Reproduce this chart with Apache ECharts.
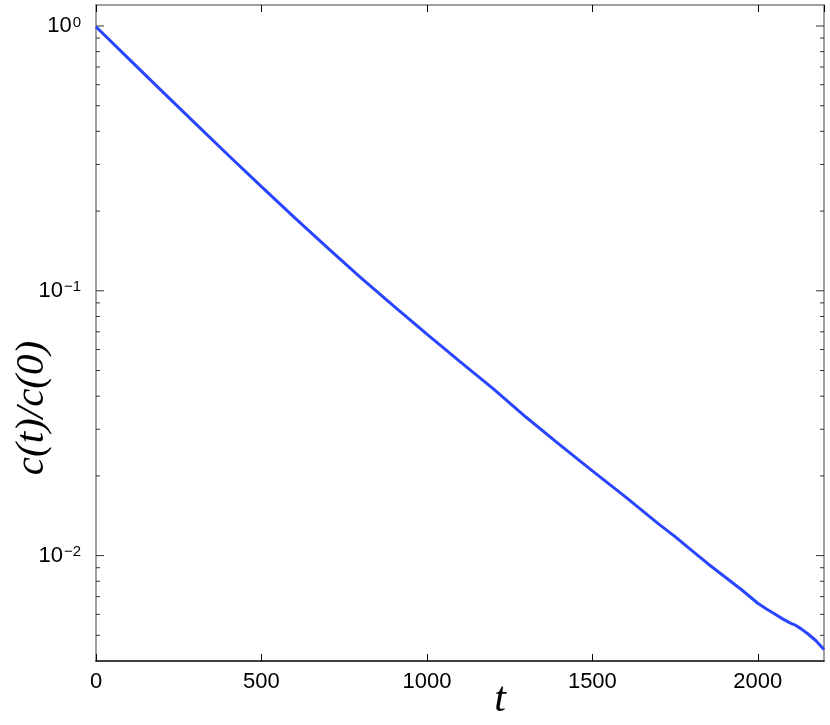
<!DOCTYPE html>
<html style="height: 100%">
<head>
    <meta charset="utf-8">
</head>
<body style="height: 100%; margin: 0; background: #fff">
<div id="decay_container" style="height: 725px; width: 830px"></div>
<script src="https://cdn.jsdelivr.net/npm/echarts@6/dist/echarts.min.js"></script>
<script type="text/javascript">
    // t values and c(t)/c(0)
    var timeSteps = [0, 100, 200, 300, 400, 500, 600, 700, 800, 900, 1000, 1100, 1200, 1300, 1400, 1500,
        1600, 1700, 1750, 1800, 1850, 1900, 1950, 2000, 2025, 2050, 2075, 2100, 2115, 2130, 2150, 2175, 2200];
    var ratioValues = [0.993, 0.750, 0.566, 0.4285, 0.325, 0.2472, 0.1888, 0.1452, 0.1122, 0.0875, 0.0686, 0.0540, 0.0427, 0.0333, 0.0263, 0.0209,
        0.01667, 0.01318, 0.0118, 0.01047, 0.0093, 0.00832, 0.00745, 0.00661, 0.0063, 0.00603, 0.00577, 0.00555, 0.00545, 0.0053, 0.00508, 0.00478, 0.00442];
    var majorTicks = [0.01, 0.1, 1];
    var minorTicks = [0.005, 0.006, 0.007, 0.008, 0.009, 0.02, 0.03, 0.04, 0.05, 0.06, 0.07, 0.08, 0.09,
        0.2, 0.3, 0.4, 0.5, 0.6, 0.7, 0.8, 0.9];

    var chartDom = document.getElementById('decay_container');
    var myChart = echarts.init(chartDom);

    var lineData = timeSteps.map(function (t, i) { return [t, ratioValues[i]]; });
    var tickData = majorTicks.map(function (v) { return [0, v, 8]; })
        .concat(minorTicks.map(function (v) { return [0, v, 4]; }));

    var frameGray = '#808080';

    function expLabel(v) {
        var e = Math.round(Math.log(v) / Math.LN10);
        if (Math.abs(Math.pow(10, e) - v) > v * 1e-6) return '';
        return '{b|10}{s|' + (e < 0 ? '\u2212' + (-e) : e) + '}';
    }

    var option = {
        backgroundColor: '#ffffff',
        animation: false,
        grid: { left: 96, right: 6, top: 5, bottom: 64, containLabel: false, outerBoundsMode: 'none' },
        xAxis: [
            {
                type: 'value',
                min: 0,
                max: 2200,
                interval: 500,
                name: 't',
                nameLocation: 'middle',
                nameGap: 18,
                nameMoveOverlap: false,
                nameTextStyle: {
                    fontFamily: 'Liberation Serif', fontStyle: 'italic', fontSize: 42, color: '#000',
                    verticalAlign: 'top', padding: [0, 0, 0, 80]
                },
                axisLine: { show: true, onZero: false, lineStyle: { color: '#000', width: 1.5 } },
                axisTick: { show: true, inside: true, length: 7, lineStyle: { color: '#000', width: 1 } },
                axisLabel: {
                    fontFamily: 'Liberation Sans', fontSize: 22, color: '#000', margin: 10, showMaxLabel: false,
                    formatter: function (v) { return String(v); }
                },
                splitLine: { show: false }
            },
            {
                type: 'value',
                position: 'top',
                min: 0,
                max: 2200,
                interval: 500,
                axisLine: { show: true, onZero: false, lineStyle: { color: frameGray, width: 1.5 } },
                axisTick: { show: true, inside: true, length: 7, lineStyle: { color: '#000', width: 1 } },
                axisLabel: { show: false },
                splitLine: { show: false }
            }
        ],
        yAxis: [
            {
                type: 'log',
                logBase: 10,
                min: 0.004,
                max: 1.2,
                name: 'c(t)/c(0)',
                nameLocation: 'middle',
                nameRotate: 90,
                nameGap: 43,
                nameMoveOverlap: false,
                nameTextStyle: {
                    fontFamily: 'Liberation Serif', fontStyle: 'italic', fontSize: 41, color: '#000',
                    verticalAlign: 'bottom', padding: [0, 150, 0, 0]
                },
                axisLine: { show: true, onZero: false, lineStyle: { color: frameGray, width: 1.5 } },
                axisTick: { show: false },
                axisLabel: {
                    margin: 15,
                    showMinLabel: false,
                    showMaxLabel: false,
                    formatter: expLabel,
                    rich: {
                        b: { fontFamily: 'Liberation Sans', fontSize: 22, lineHeight: 22, color: '#000', verticalAlign: 'bottom' },
                        s: { fontFamily: 'Liberation Sans', fontSize: 15, lineHeight: 15, color: '#000', verticalAlign: 'top', padding: [0, 0, 12, 1] }
                    }
                },
                splitLine: { show: false }
            },
            {
                type: 'log',
                logBase: 10,
                min: 0.004,
                max: 1.2,
                position: 'right',
                axisLine: { show: true, onZero: false, lineStyle: { color: frameGray, width: 1.5 } },
                axisTick: { show: false },
                axisLabel: { show: false },
                splitLine: { show: false }
            }
        ],
        series: [
            {
                // y ticks at 1..9 x 10^k on both sides of the box
                type: 'custom',
                xAxisIndex: 0,
                yAxisIndex: 0,
                silent: true,
                clip: false,
                z: 1,
                renderItem: function (params, api) {
                    var v = api.value(1);
                    var len = api.value(2);
                    var pl = api.coord([0, v]);
                    var pr = api.coord([2200, v]);
                    return {
                        type: 'group',
                        children: [
                            { type: 'line', shape: { x1: pl[0], y1: pl[1], x2: pl[0] + len, y2: pl[1] }, style: { stroke: '#333', lineWidth: 1 } },
                            { type: 'line', shape: { x1: pr[0], y1: pr[1], x2: pr[0] - len, y2: pr[1] }, style: { stroke: '#333', lineWidth: 1 } }
                        ]
                    };
                },
                data: tickData
            },
            {
                type: 'line',
                xAxisIndex: 0,
                yAxisIndex: 0,
                data: lineData,
                showSymbol: false,
                symbol: 'none',
                smooth: false,
                z: 3,
                lineStyle: { color: '#2a45ff', width: 3 }
            }
        ]
    };

    myChart.setOption(option, true);
</script>
</body>
</html>
